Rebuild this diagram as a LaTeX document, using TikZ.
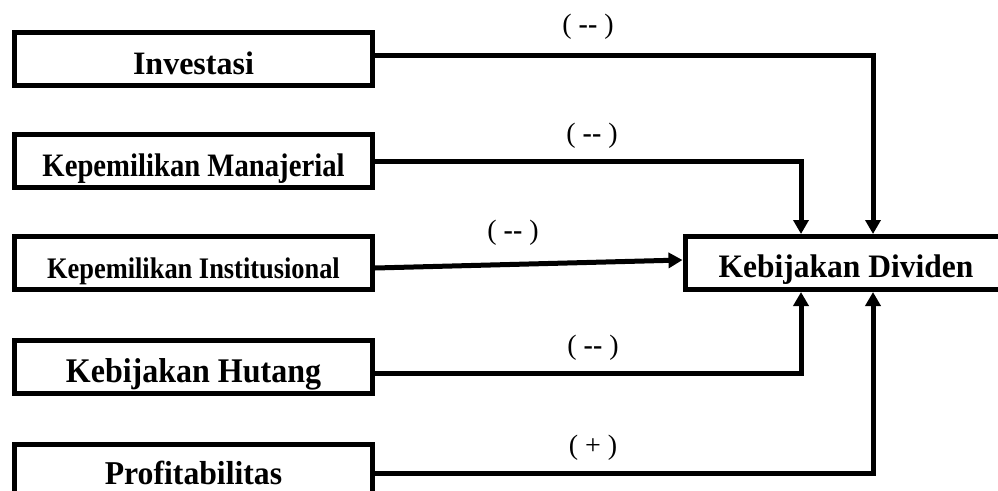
\documentclass[tikz,border=0pt]{standalone}
\usepackage{fontspec}
\setmainfont{Liberation Serif}
\usetikzlibrary{arrows.meta}
\usetikzlibrary{positioning}
\tikzset{every picture/.style={line width=5pt},
  varbox/.style={draw,minimum width=358pt,minimum height=53pt,inner sep=0pt,font=\bfseries},
  sign/.style={font=\fontsize{28}{30}\selectfont},
  link/.style={-{Triangle[length=14pt,width=15pt]}}}
% text set low in its box, slightly stretched upwards
\newcommand{\boxtext}[4]{\smash{\raisebox{-#1pt}{\scalebox{1}[#2]{\fontsize{#3}{#3}\selectfont #4}}}}

\begin{document}
\begin{tikzpicture}[x=1pt,y=-1pt]
\useasboundingbox (0,0) rectangle (998,490);
\clip (0,0) rectangle (998,490);
\foreach \n/\y/\bl/\fs/\ys/\txt in {inv/58.5/15.5/32/1.02/Investasi, man/161/15.5/28.7/1.14/Kepemilikan Manajerial, ins/263/15.5/26.4/1.13/Kepemilikan Institusional, hut/366.5/15.5/32/1.08/Kebijakan Hutang, pro/471/13/31.7/1.05/Profitabilitas} {
\node (\n) at (193.5,\y) [varbox] {\boxtext{\bl}{\ys}{\fs}{\txt}};
}
\node (div) at (846,263) [varbox,minimum width=322pt] {\boxtext{14}{1.04}{31.5}{Kebijakan Dividen}};
\coordinate (c1) at (801,0);
\coordinate (c2) at (873,0);
\draw[link] ([yshift=3.5pt]inv.east) -| (div.north -| c2);
\draw[link] (man.east) -| (div.north -| c1);
\draw[link] ([yshift=-5pt]ins.east) -- ([yshift=3pt]div.west);
\draw[link] ([yshift=-6.5pt]hut.east) -| (div.south -| c1);
\draw[link] ([yshift=-2pt]pro.east) -| (div.south -| c2);
\node (s1) at (588,27) [sign] {( \textbf{\mbox{-}\mbox{-}} )};
\node (s2) at (592,136) [sign] {( \textbf{\mbox{-}\mbox{-}} )};
\node (s3) at (513,233) [sign] {( \textbf{\mbox{-}\mbox{-}} )};
\node (s4) at (593,348) [sign] {( \textbf{\mbox{-}\mbox{-}} )};
\node (s5) at (593,448) [sign] {( + )};
\end{tikzpicture}
\end{document}
